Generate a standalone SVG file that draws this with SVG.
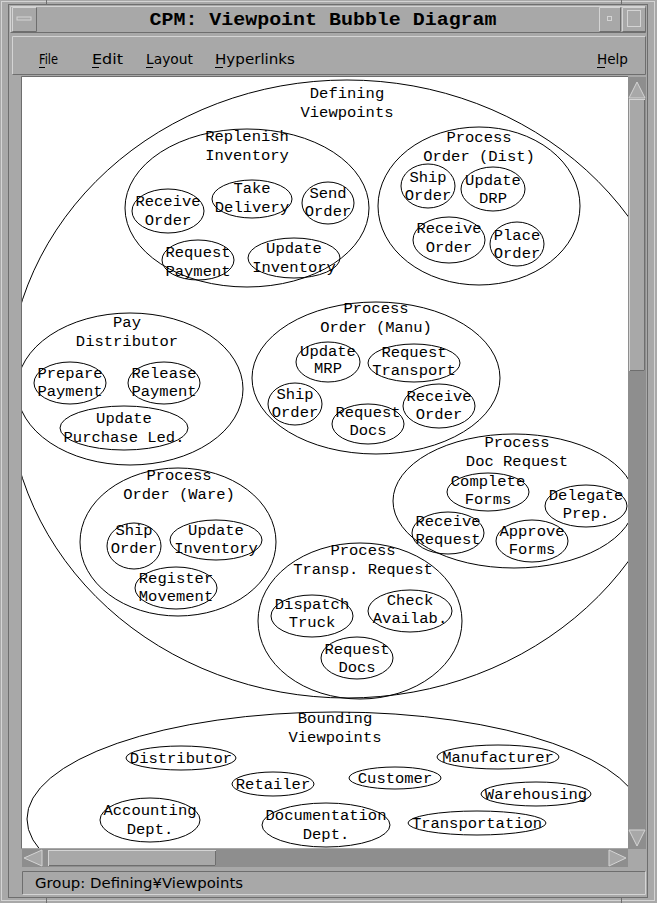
<svg xmlns="http://www.w3.org/2000/svg" width="657" height="903" viewBox="0 0 657 903">
  <style>
    .frame { fill: #a8a8a8; }
    .hi { stroke: #d4d4d4; stroke-width: 1; fill: none; }
    .lo { stroke: #6e6e6e; stroke-width: 1; fill: none; }
    .trough { fill: #8e8e8e; }
    .b { fill: none; stroke: #000; stroke-width: 1; }
    .t { font-family: "Liberation Mono", "DejaVu Sans Mono", monospace; font-size: 15.5px; fill: #000; text-anchor: middle; }
    .ui { font-family: "Liberation Sans Narrow", "DejaVu Sans Condensed", "Liberation Sans", sans-serif; font-size: 14px; fill: #000; }
    .title { font-family: "Liberation Mono", "DejaVu Sans Mono", monospace; font-size: 19px; font-weight: bold; fill: #000; text-anchor: middle; }
    .arrow { fill: #a8a8a8; stroke: #d4d4d4; stroke-width: 1; }
  </style>
  <defs>
    <clipPath id="canvasClip">
      <rect x="22" y="77" width="606" height="771"/>
    </clipPath>
  </defs>

  <!-- window frame -->
  <rect class="frame" x="0" y="0" width="657" height="903"/>
  <rect class="hi" x="1.5" y="1.5" width="653" height="899"/>
  <rect class="lo" x="8.5" y="4.5" width="639" height="893"/>
  <line class="lo" x1="46.5" y1="0" x2="46.5" y2="5"/>
  <line class="lo" x1="621.5" y1="0" x2="621.5" y2="5"/>
  <line class="lo" x1="46.5" y1="897" x2="46.5" y2="903"/>
  <line class="lo" x1="621.5" y1="897" x2="621.5" y2="903"/>

  <!-- title bar -->
  <rect x="10" y="6" width="636" height="27" fill="#a8a8a8"/>
  <path class="hi" d="M10.5 32.5 V6.5 H645.5"/>
  <path class="lo" d="M10.5 32.5 H645.5 V6.5"/>
  <path class="hi" d="M12.5 31.5 V7.5 H36.5"/>
  <path class="lo" d="M12.5 31.5 H36.5 V7.5"/>
  <rect x="17" y="17" width="14" height="3" fill="#a8a8a8" stroke="#d4d4d4" stroke-width="1"/>
  <path class="hi" d="M599.5 31.5 V7.5 H620.5"/>
  <path class="lo" d="M599.5 31.5 H620.5 V7.5"/>
  <rect x="607.5" y="16.5" width="4" height="4" fill="none" stroke="#d4d4d4"/>
  <path class="hi" d="M622.5 31.5 V7.5 H645.5"/>
  <path class="lo" d="M622.5 31.5 H645.5 V7.5"/>
  <rect x="627.5" y="10.5" width="13" height="16" fill="none" stroke="#d4d4d4"/>
  <text class="title" x="323" y="25" textLength="347" lengthAdjust="spacingAndGlyphs">CPM: Viewpoint Bubble Diagram</text>

  <!-- menu bar -->
  <path class="hi" d="M12.5 74.5 V36.5 H645.5"/>
  <path class="lo" d="M12.5 74.5 H645.5 V36.5"/>
  <g id="menu" class="ui">
    <text x="39" y="64" textLength="19" lengthAdjust="spacingAndGlyphs">File</text>
    <text x="92" y="64" textLength="31" lengthAdjust="spacingAndGlyphs">Edit</text>
    <text x="146" y="64" textLength="47" lengthAdjust="spacingAndGlyphs">Layout</text>
    <text x="215" y="64" textLength="80" lengthAdjust="spacingAndGlyphs">Hyperlinks</text>
    <text x="597" y="64" textLength="31" lengthAdjust="spacingAndGlyphs">Help</text>
  </g>
  <g stroke="#000" stroke-width="1">
    <line x1="39" y1="67.5" x2="45" y2="67.5"/>
    <line x1="92" y1="67.5" x2="99" y2="67.5"/>
    <line x1="146" y1="67.5" x2="153" y2="67.5"/>
    <line x1="215" y1="67.5" x2="223" y2="67.5"/>
    <line x1="597" y1="67.5" x2="605" y2="67.5"/>
  </g>

  <!-- drawing canvas -->
  <rect x="22" y="77" width="606" height="771" fill="#fff"/>
  <path class="lo" d="M21.5 848.5 V76.5 H628"/>

  <!-- vertical scrollbar -->
  <rect class="trough" x="628" y="77" width="18" height="772"/>
  <path class="arrow" d="M637 82 L645 98 H629 Z"/>
  <rect x="629.5" y="99.5" width="15" height="271" fill="#a8a8a8" stroke="#d4d4d4"/>
  <path class="lo" d="M644.5 100 V370.5 H630"/>
  <path class="arrow" d="M629 830 H645 L637 846 Z"/>

  <!-- horizontal scrollbar -->
  <rect class="trough" x="22" y="849" width="606" height="18"/>
  <path class="arrow" d="M24 858 L42 850 V866 Z"/>
  <rect x="48.5" y="850.5" width="167" height="15" fill="#a8a8a8" stroke="#d4d4d4"/>
  <path class="lo" d="M215.5 851 V865.5 H49"/>
  <path class="arrow" d="M609 850 L626 858 L609 866 Z"/>
  <rect x="628" y="849" width="18" height="18" fill="#a8a8a8"/>

  <!-- status bar -->
  <path class="lo" d="M22.5 894.5 V871.5 H645.5"/>
  <path class="hi" d="M22.5 894.5 H645.5 V871.5"/>
  <text class="ui" x="35" y="888" textLength="208" lengthAdjust="spacingAndGlyphs">Group: Defining¥Viewpoints</text>

  <!-- bubble diagram -->
  <g clip-path="url(#canvasClip)">
    <g id="defining-viewpoints">
      <ellipse class="b" cx="347" cy="389" rx="339" ry="309"/>
      <text class="t"><tspan x="347" y="98">Defining</tspan><tspan x="347" y="117">Viewpoints</tspan></text>
    </g>

    <g id="replenish-inventory">
      <ellipse class="b" cx="247" cy="208" rx="122" ry="79"/>
      <text class="t"><tspan x="247" y="141">Replenish</tspan><tspan x="247" y="160">Inventory</tspan></text>
    </g>
    <g id="ri-receive-order">
      <ellipse class="b" cx="168" cy="211" rx="36" ry="22"/>
      <text class="t"><tspan x="168" y="206">Receive</tspan><tspan x="168" y="225">Order</tspan></text>
    </g>
    <g id="ri-take-delivery">
      <ellipse class="b" cx="252" cy="199" rx="40" ry="19"/>
      <text class="t"><tspan x="252" y="193">Take</tspan><tspan x="252" y="212">Delivery</tspan></text>
    </g>
    <g id="ri-send-order">
      <ellipse class="b" cx="328" cy="203" rx="26" ry="21"/>
      <text class="t"><tspan x="328" y="198">Send</tspan><tspan x="328" y="216">Order</tspan></text>
    </g>
    <g id="ri-request-payment">
      <ellipse class="b" cx="198" cy="260" rx="36" ry="20"/>
      <text class="t"><tspan x="198" y="257">Request</tspan><tspan x="198" y="276">Payment</tspan></text>
    </g>
    <g id="ri-update-inventory">
      <ellipse class="b" cx="294" cy="258" rx="46" ry="20"/>
      <text class="t"><tspan x="294" y="253">Update</tspan><tspan x="294" y="272">Inventory</tspan></text>
    </g>

    <g id="process-order-dist">
      <ellipse class="b" cx="479" cy="206" rx="101" ry="79"/>
      <text class="t"><tspan x="479" y="142">Process</tspan><tspan x="479" y="161">Order (Dist)</tspan></text>
    </g>
    <g id="pod-ship-order">
      <ellipse class="b" cx="428" cy="186" rx="27" ry="22"/>
      <text class="t"><tspan x="428" y="182">Ship</tspan><tspan x="428" y="200">Order</tspan></text>
    </g>
    <g id="pod-update-drp">
      <ellipse class="b" cx="493" cy="189" rx="32" ry="22"/>
      <text class="t"><tspan x="493" y="185">Update</tspan><tspan x="493" y="203">DRP</tspan></text>
    </g>
    <g id="pod-receive-order">
      <ellipse class="b" cx="449" cy="240" rx="36" ry="23"/>
      <text class="t"><tspan x="449" y="233">Receive</tspan><tspan x="449" y="252">Order</tspan></text>
    </g>
    <g id="pod-place-order">
      <ellipse class="b" cx="517" cy="244" rx="27" ry="22"/>
      <text class="t"><tspan x="517" y="240">Place</tspan><tspan x="517" y="258">Order</tspan></text>
    </g>

    <g id="pay-distributor">
      <ellipse class="b" cx="130" cy="389" rx="113" ry="76"/>
      <text class="t"><tspan x="127" y="327">Pay</tspan><tspan x="127" y="346">Distributor</tspan></text>
    </g>
    <g id="pd-prepare-payment">
      <ellipse class="b" cx="70" cy="383" rx="36" ry="21"/>
      <text class="t"><tspan x="70" y="378">Prepare</tspan><tspan x="70" y="396">Payment</tspan></text>
    </g>
    <g id="pd-release-payment">
      <ellipse class="b" cx="164" cy="383" rx="36" ry="21"/>
      <text class="t"><tspan x="164" y="378">Release</tspan><tspan x="164" y="396">Payment</tspan></text>
    </g>
    <g id="pd-update-purchase-led">
      <ellipse class="b" cx="124" cy="428" rx="64" ry="22"/>
      <text class="t"><tspan x="124" y="423">Update</tspan><tspan x="124" y="442">Purchase Led.</tspan></text>
    </g>

    <g id="process-order-manu">
      <ellipse class="b" cx="376" cy="378" rx="124" ry="76"/>
      <text class="t"><tspan x="376" y="313">Process</tspan><tspan x="376" y="332">Order (Manu)</tspan></text>
    </g>
    <g id="pom-update-mrp">
      <ellipse class="b" cx="328" cy="362" rx="32" ry="20"/>
      <text class="t"><tspan x="328" y="356">Update</tspan><tspan x="328" y="373">MRP</tspan></text>
    </g>
    <g id="pom-request-transport">
      <ellipse class="b" cx="414" cy="363" rx="46" ry="19"/>
      <text class="t"><tspan x="414" y="357">Request</tspan><tspan x="414" y="375">Transport</tspan></text>
    </g>
    <g id="pom-ship-order">
      <ellipse class="b" cx="295" cy="404" rx="27" ry="21"/>
      <text class="t"><tspan x="295" y="399">Ship</tspan><tspan x="295" y="417">Order</tspan></text>
    </g>
    <g id="pom-request-docs">
      <ellipse class="b" cx="368" cy="424" rx="36" ry="20"/>
      <text class="t"><tspan x="368" y="417">Request</tspan><tspan x="368" y="435">Docs</tspan></text>
    </g>
    <g id="pom-receive-order">
      <ellipse class="b" cx="439" cy="406" rx="36" ry="22"/>
      <text class="t"><tspan x="439" y="401">Receive</tspan><tspan x="439" y="419">Order</tspan></text>
    </g>

    <g id="process-doc-request">
      <ellipse class="b" cx="514" cy="501" rx="121" ry="67"/>
      <text class="t"><tspan x="517" y="447">Process</tspan><tspan x="517" y="466">Doc Request</tspan></text>
    </g>
    <g id="pdr-complete-forms">
      <ellipse class="b" cx="488" cy="492" rx="41" ry="19"/>
      <text class="t"><tspan x="488" y="486">Complete</tspan><tspan x="488" y="504">Forms</tspan></text>
    </g>
    <g id="pdr-delegate-prep">
      <ellipse class="b" cx="586" cy="506" rx="41" ry="21"/>
      <text class="t"><tspan x="586" y="500">Delegate</tspan><tspan x="586" y="518">Prep.</tspan></text>
    </g>
    <g id="pdr-receive-request">
      <ellipse class="b" cx="448" cy="533" rx="36" ry="21"/>
      <text class="t"><tspan x="448" y="526">Receive</tspan><tspan x="448" y="544">Request</tspan></text>
    </g>
    <g id="pdr-approve-forms">
      <ellipse class="b" cx="532" cy="541" rx="36" ry="21"/>
      <text class="t"><tspan x="532" y="536">Approve</tspan><tspan x="532" y="554">Forms</tspan></text>
    </g>

    <g id="process-order-ware">
      <ellipse class="b" cx="178" cy="542" rx="98" ry="74"/>
      <text class="t"><tspan x="179" y="480">Process</tspan><tspan x="179" y="499">Order (Ware)</tspan></text>
    </g>
    <g id="pow-ship-order">
      <ellipse class="b" cx="134" cy="546" rx="27" ry="23"/>
      <text class="t"><tspan x="134" y="535">Ship</tspan><tspan x="134" y="553">Order</tspan></text>
    </g>
    <g id="pow-update-inventory">
      <ellipse class="b" cx="216" cy="540" rx="46" ry="20"/>
      <text class="t"><tspan x="216" y="535">Update</tspan><tspan x="216" y="553">Inventory</tspan></text>
    </g>
    <g id="pow-register-movement">
      <ellipse class="b" cx="176" cy="588" rx="41" ry="21"/>
      <text class="t"><tspan x="176" y="583">Register</tspan><tspan x="176" y="601">Movement</tspan></text>
    </g>

    <g id="process-transp-request">
      <ellipse class="b" cx="360" cy="621" rx="102" ry="78"/>
      <text class="t"><tspan x="363" y="555">Process</tspan><tspan x="363" y="574">Transp. Request</tspan></text>
    </g>
    <g id="ptr-dispatch-truck">
      <ellipse class="b" cx="312" cy="616" rx="41" ry="21"/>
      <text class="t"><tspan x="312" y="609">Dispatch</tspan><tspan x="312" y="627">Truck</tspan></text>
    </g>
    <g id="ptr-check-availab">
      <ellipse class="b" cx="410" cy="611" rx="42" ry="21"/>
      <text class="t"><tspan x="410" y="605">Check</tspan><tspan x="410" y="623">Availab.</tspan></text>
    </g>
    <g id="ptr-request-docs">
      <ellipse class="b" cx="357" cy="658" rx="36" ry="21"/>
      <text class="t"><tspan x="357" y="654">Request</tspan><tspan x="357" y="672">Docs</tspan></text>
    </g>

    <g id="bounding-viewpoints">
      <ellipse class="b" cx="335" cy="819" rx="308" ry="107"/>
      <text class="t"><tspan x="335" y="723">Bounding</tspan><tspan x="335" y="742">Viewpoints</tspan></text>
    </g>
    <g id="bv-distributor">
      <ellipse class="b" cx="181" cy="758" rx="55" ry="12"/>
      <text class="t" x="181" y="763">Distributor</text>
    </g>
    <g id="bv-manufacturer">
      <ellipse class="b" cx="498" cy="757" rx="61" ry="12"/>
      <text class="t" x="498" y="762">Manufacturer</text>
    </g>
    <g id="bv-retailer">
      <ellipse class="b" cx="273" cy="784" rx="41" ry="12"/>
      <text class="t" x="273" y="789">Retailer</text>
    </g>
    <g id="bv-customer">
      <ellipse class="b" cx="395" cy="778" rx="46" ry="11"/>
      <text class="t" x="395" y="783">Customer</text>
    </g>
    <g id="bv-warehousing">
      <ellipse class="b" cx="536" cy="794" rx="55" ry="12"/>
      <text class="t" x="536" y="799">Warehousing</text>
    </g>
    <g id="bv-accounting-dept">
      <ellipse class="b" cx="150" cy="820" rx="50" ry="22"/>
      <text class="t"><tspan x="150" y="815">Accounting</tspan><tspan x="150" y="834">Dept.</tspan></text>
    </g>
    <g id="bv-documentation-dept">
      <ellipse class="b" cx="326" cy="825" rx="64" ry="22"/>
      <text class="t"><tspan x="326" y="820">Documentation</tspan><tspan x="326" y="839">Dept.</tspan></text>
    </g>
    <g id="bv-transportation">
      <ellipse class="b" cx="477" cy="823" rx="69" ry="12"/>
      <text class="t" x="477" y="828">Transportation</text>
    </g>
  </g>
</svg>
